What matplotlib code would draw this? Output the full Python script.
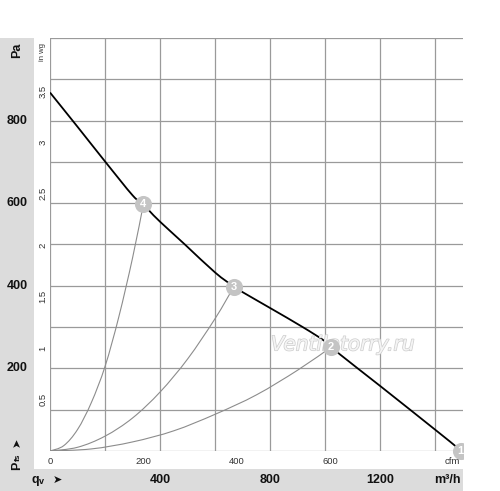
import matplotlib
matplotlib.use("Agg")
import matplotlib.pyplot as plt
from matplotlib.patches import Rectangle, PathPatch
from matplotlib.path import Path
from matplotlib.transforms import blended_transform_factory
import matplotlib.patheffects as pe

# ---- data (flow in m³/h, pressure in Pa) ----
main_flow = [0, 100, 200, 300, 339, 363, 400, 490, 600, 668, 696, 800, 918, 1000, 1053, 1200, 1400, 1476, 1492]
main_pa = [868, 785, 701, 619, 597, 580, 555, 500, 432, 398, 386, 346, 300, 265, 234, 157, 51, 10, 0]

sys4_flow = [0, 50, 100, 150, 200, 250, 300, 339]
sys4_pa = [0, 13, 52, 117, 205, 325, 468, 597]
sys3_flow = [0, 100, 200, 300, 400, 500, 600, 668]
sys3_pa = [0, 9, 36, 80, 143, 223, 321, 398]
sys2_flow = [0, 150, 300, 450, 600, 750, 900, 1020]
sys2_pa = [0, 5, 22, 49, 89, 136, 196, 251]

op_flow = [1492, 1020, 668, 339]
op_pa = [0, 251, 398, 597]
op_labels = ["1", "2", "3", "4"]

pa_ticks = [200, 400, 600, 800]
m3h_ticks = [400, 800, 1200]
cfm_ticks = [0, 200, 400, 600]
inwg_ticks = [0.5, 1, 1.5, 2, 2.5, 3, 3.5]
CFM_TO_M3H = 1.699
INWG_TO_PA = 249.09

W, H = 500, 491


def smooth_path(xs, ys):
    """Catmull-Rom curve through the given points, drawn as cubic Bezier segments."""
    pts = list(zip(xs, ys))
    verts = [pts[0]]
    codes = [Path.MOVETO]
    n = len(pts)
    for i in range(n - 1):
        p0 = pts[i - 1] if i > 0 else pts[i]
        p1 = pts[i]
        p2 = pts[i + 1]
        p3 = pts[i + 2] if i + 2 < n else pts[i + 1]
        c1 = (p1[0] + (p2[0] - p0[0]) / 6, p1[1] + (p2[1] - p0[1]) / 6)
        c2 = (p2[0] - (p3[0] - p1[0]) / 6, p2[1] - (p3[1] - p1[1]) / 6)
        verts += [c1, c2, p2]
        codes += [Path.CURVE4] * 3
    return Path(verts, codes)


fig = plt.figure(figsize=(W / 100, H / 100), dpi=100)
fig.patch.set_facecolor("white")

band = "#dcdcdc"
fig.patches.append(Rectangle((0, 0), 34 / W, (H - 38) / H, transform=fig.transFigure,
                             facecolor=band, edgecolor="none", zorder=0))
fig.patches.append(Rectangle((0, 0), 463 / W, (H - 469) / H, transform=fig.transFigure,
                             facecolor=band, edgecolor="none", zorder=0))

ax = fig.add_axes([50 / W, (H - 451) / H, 413 / W, 413 / H])
ax.set_xlim(0, 1500)
ax.set_ylim(0, 1000)
ax.set_facecolor("none")
for s in ax.spines.values():
    s.set_visible(False)
ax.set_xticks(range(0, 1500, 200))
ax.set_yticks(range(0, 1001, 100))
ax.tick_params(length=0, labelbottom=False, labelleft=False)
ax.grid(True, color="#9a9a9a", lw=0.9)
ax.set_axisbelow(True)

gcol = "#8c8c8c"
for fx, fy in [(sys4_flow, sys4_pa), (sys3_flow, sys3_pa), (sys2_flow, sys2_pa)]:
    ax.add_patch(PathPatch(smooth_path(fx, fy), facecolor="none", edgecolor=gcol, lw=0.8, zorder=2))
ax.add_patch(PathPatch(smooth_path(main_flow, main_pa), facecolor="none", edgecolor="black",
                       lw=1.3, zorder=3))

clip = Rectangle((0, -0.1), 1, 1.2, transform=ax.transAxes, facecolor="none", edgecolor="none")
ax.add_patch(clip)
for fx, fy, lab in zip(op_flow, op_pa, op_labels):
    m, = ax.plot([fx], [fy], "o", ms=12.3, color="#c4c4c4", mec="none", zorder=4)
    t = ax.text(fx, fy, lab, color="white", ha="center", va="center", fontsize=8,
                fontweight="bold", family="Liberation Sans", zorder=5)
    m.set_clip_path(clip)
    t.set_clip_path(clip)

# watermark
ax.text(1063, 257, "Ventilatorry.ru", fontsize=14.5, style="italic", family="DejaVu Sans",
        ha="center", va="center", color="#f4f4f4", zorder=3.5,
        path_effects=[pe.withStroke(linewidth=1.0, foreground="#cdcdcd")])

bold = dict(family="Liberation Sans", fontweight="bold", fontsize=9, color="#111111")
small = dict(family="Liberation Sans", fontsize=6.8, color="#333333")

tr_fy = blended_transform_factory(fig.transFigure, ax.transData)
for v in pa_ticks:
    fig.text(17 / W, v, str(v), transform=tr_fy, ha="center", va="center", **bold)
fig.text(17 / W, (H - 50) / H, "Pa", rotation=90, ha="center", va="center", **bold)

for v in inwg_ticks:
    lab = ("%g" % v)
    fig.text(43 / W, v * INWG_TO_PA, lab, transform=tr_fy, rotation=90,
             ha="center", va="center", **small)
fig.text(43 / W, (H - 52) / H, "in wg", rotation=90, ha="center", va="center",
         family="Liberation Sans", fontsize=5.5, color="#333333")

tr_xf = blended_transform_factory(ax.transData, fig.transFigure)
for v in m3h_ticks:
    fig.text(v, (H - 480) / H, str(v), transform=tr_xf, ha="center", va="center", **bold)
fig.text(447 / W, (H - 480) / H, "m³/h", ha="center", va="center", **bold)

for v in cfm_ticks:
    fig.text(v * CFM_TO_M3H, (H - 461) / H, str(v), transform=tr_xf,
             ha="center", va="center", **small)
fig.text(452 / W, (H - 461) / H, "cfm", ha="center", va="center", **small)

# axis name labels
fig.text(35 / W, (H - 480) / H, "q", ha="center", va="center", **bold)
fig.text(41 / W, (H - 481) / H, "v", ha="center", va="center",
         family="Liberation Sans", fontweight="bold", fontsize=6.5, color="#111111")
fig.text(57 / W, (H - 480) / H, "➤", ha="center", va="center",
         family="DejaVu Sans", fontsize=8, color="#111111")
fig.text(17 / W, (H - 466) / H, "P", rotation=90, ha="center", va="center", **bold)
fig.text(18 / W, (H - 457) / H, "fs", rotation=90, ha="center", va="center",
         family="Liberation Sans", fontweight="bold", fontsize=6, color="#111111")
fig.text(17 / W, (H - 442) / H, "➤", rotation=90, ha="center", va="center",
         family="DejaVu Sans", fontsize=8, color="#111111")

fig.savefig("out.png", dpi=100, facecolor="white")
